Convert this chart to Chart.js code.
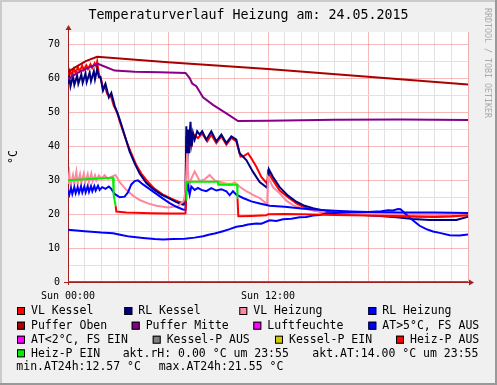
<!DOCTYPE html>
<html>
<head>
<meta charset="utf-8">
<script src="https://cdn.jsdelivr.net/npm/chart.js@4.4.1/dist/chart.umd.min.js"></script>
<style>
  html, body { margin: 0; padding: 0; background: #f0f0f0; }
  #wrap { width: 497px; height: 385px; }
</style>
</head>
<body>
<div id="wrap"><canvas id="chart" width="497" height="385"></canvas></div>
<script>
// Titel / Achsen
const chartTitle = 'Temperaturverlauf Heizung am: 24.05.2015'
const yAxisLabel = '°C'
const watermark = 'RRDTOOL / TOBI OETIKER'
const xTickLabels = { 0: 'Sun 00:00', 12: 'Sun 12:00' }

// Reihen (Stunden / Werte)
const vlKesselT = [0, 0.1, 0.2, 0.35, 0.45, 0.6, 0.7, 0.85, 0.95, 1.1, 1.2, 1.35, 1.45, 1.6, 1.7, 1.75, 1.85, 2.0, 2.1, 2.2, 2.35, 2.5, 2.6, 2.75, 2.95, 3.1, 3.3, 3.55, 3.8, 4.1, 4.4, 4.8, 5.2, 5.7, 6.2, 6.6, 6.95, 7.05, 7.1, 7.2, 7.3, 7.4, 7.55, 7.8, 8.05, 8.35, 8.6, 8.9, 9.2, 9.5, 9.8, 10.1, 10.35, 10.55, 10.8, 11.0, 11.3, 11.6, 11.95, 12.0, 12.3, 12.7, 13.2, 13.7, 14.2, 14.7, 15.7, 17, 18, 19, 20, 21, 22, 23, 24]
const vlKesselV = [61.0, 62.5, 61.2, 63.0, 61.8, 63.4, 62.2, 63.8, 62.6, 64.0, 62.9, 64.3, 63.2, 64.6, 63.6, 65.0, 61.5, 59.5, 57.0, 58.0, 55.5, 55.0, 54.5, 52.0, 50.0, 47.5, 44.5, 41.0, 38.0, 34.5, 32.0, 29.5, 27.5, 25.8, 24.6, 23.8, 23.2, 24.5, 43.0, 38.0, 44.0, 40.0, 43.5, 42.5, 43.8, 41.5, 43.5, 41.0, 43.0, 40.5, 42.5, 41.5, 37.0, 37.2, 38.0, 36.5, 34.0, 31.0, 29.0, 32.5, 30.0, 27.0, 25.0, 23.2, 22.0, 21.2, 20.3, 20.0, 19.8, 19.6, 19.5, 19.3, 19.3, 19.5, 19.9]

const rlKesselT = [0, 0.08, 0.15, 0.3, 0.38, 0.55, 0.62, 0.8, 0.88, 1.05, 1.12, 1.3, 1.38, 1.55, 1.62, 1.75, 1.85, 1.95, 2.1, 2.25, 2.45, 2.6, 2.8, 3.0, 3.2, 3.45, 3.7, 4.0, 4.3, 4.7, 5.1, 5.6, 6.1, 6.5, 6.9, 7.05, 7.1, 7.15, 7.22, 7.28, 7.35, 7.42, 7.5, 7.6, 7.75, 7.9, 8.05, 8.3, 8.6, 8.9, 9.2, 9.5, 9.8, 10.1, 10.3, 10.7, 11.1, 11.5, 11.95, 12.05, 12.3, 12.7, 13.2, 13.7, 14.2, 14.7, 15.7, 16.7, 17.7, 18.7, 19.7, 20.7, 21.7, 22.7, 23.3, 24]
const rlKesselV = [58.5, 60.5, 57.8, 60.8, 58.2, 61.0, 58.5, 61.3, 58.8, 61.6, 59.0, 61.8, 59.3, 62.2, 59.8, 62.8, 60.5, 60.5, 56.5, 58.5, 54.5, 55.8, 52.0, 49.5, 46.5, 42.5, 38.5, 35.0, 32.0, 29.2, 27.5, 25.8, 24.6, 23.6, 22.8, 23.0, 46.0, 34.0, 45.0, 38.0, 47.3, 40.0, 44.0, 42.0, 44.5, 43.5, 44.5, 42.0, 44.5, 41.5, 43.5, 41.0, 43.0, 42.0, 38.0, 36.0, 32.5, 29.5, 27.8, 33.3, 31.0, 28.0, 25.5, 23.7, 22.5, 21.8, 20.7, 20.2, 19.8, 19.5, 19.1, 18.6, 18.3, 18.3, 18.3, 19.3]

const vlHeizungT = [0, 0.08, 0.16, 0.3, 0.38, 0.5, 0.58, 0.72, 0.8, 0.95, 1.03, 1.18, 1.26, 1.4, 1.48, 1.62, 1.7, 1.85, 2.0, 2.2, 2.4, 2.6, 2.85, 3.1, 3.5, 3.9, 4.3, 4.8, 5.3, 6.0, 6.6, 6.95, 7.05, 7.15, 7.25, 7.4, 7.6, 7.9, 8.2, 8.5, 8.8, 9.1, 9.4, 9.7, 10.0, 10.3, 10.7, 11.1, 11.5, 11.95, 12.0, 12.3, 12.7, 13.1, 13.5, 14.0, 14.5, 15.5, 16.5, 18, 20, 22, 24]
const vlHeizungV = [29.0, 32.0, 28.5, 31.5, 28.8, 32.5, 29.0, 31.8, 29.2, 32.0, 29.5, 31.8, 29.5, 32.0, 29.8, 31.5, 30.0, 31.5, 30.5, 31.5, 30.5, 31.0, 31.6, 29.5, 27.2, 25.5, 24.2, 23.2, 22.5, 22.0, 22.4, 24.0, 27.0, 38.0, 28.0, 30.5, 32.6, 29.8, 30.3, 31.6, 30.0, 29.6, 29.2, 28.6, 29.4, 28.1, 26.8, 25.7, 24.8, 23.0, 31.0, 28.0, 26.2, 24.0, 22.7, 21.8, 21.3, 20.5, 20.2, 20.0, 19.9, 19.9, 20.0]

const rlHeizungT = [0, 0.08, 0.18, 0.26, 0.38, 0.46, 0.58, 0.66, 0.78, 0.86, 0.98, 1.06, 1.18, 1.26, 1.38, 1.46, 1.58, 1.66, 1.8, 1.9, 2.05, 2.25, 2.45, 2.6, 2.8, 3.1, 3.4, 3.6, 3.8, 4.0, 4.2, 4.5, 4.9, 5.3, 5.7, 6.1, 6.5, 6.9, 7.05, 7.1, 7.2, 7.3, 7.4, 7.6, 7.8, 8.0, 8.3, 8.6, 8.9, 9.2, 9.5, 9.7, 9.9, 10.1, 10.5, 11.0, 11.5, 12.1, 13.0, 14.0, 15.0, 16.0, 17.0, 18.0, 19.0, 20, 22, 24]
const rlHeizungV = [27.0, 25.8, 27.8, 26.0, 28.0, 26.2, 28.0, 26.3, 28.2, 26.4, 28.2, 26.5, 28.3, 26.6, 28.3, 26.8, 28.3, 27.0, 28.4, 27.2, 28.0, 27.5, 28.2, 27.5, 26.0, 25.0, 25.2, 26.5, 28.8, 29.8, 30.0, 28.8, 27.4, 26.0, 24.6, 23.3, 22.2, 21.4, 21.3, 26.5, 28.5, 25.8, 28.2, 27.2, 27.8, 27.2, 26.8, 27.7, 27.0, 27.4, 26.8, 25.6, 26.8, 25.8, 24.8, 23.8, 23.2, 22.5, 22.2, 21.7, 21.3, 21.0, 20.8, 20.7, 20.6, 20.5, 20.5, 20.4]

const pufferObenT = [0, 0.5, 1.1, 1.75, 6, 12, 18, 24]
const pufferObenV = [62.0, 63.6, 65.3, 66.5, 64.9, 62.9, 60.6, 58.3]

const pufferMitteT = [0, 0.6, 1.2, 1.8, 2.3, 2.8, 4, 5.5, 7.05, 7.3, 7.45, 7.7, 8.1, 8.7, 9.5, 10.2, 12, 16, 20, 24]
const pufferMitteV = [59.9, 61.8, 63.2, 64.4, 63.4, 62.4, 62.1, 61.9, 61.7, 60.2, 58.6, 57.8, 54.5, 52.3, 49.8, 47.5, 47.6, 47.9, 48.0, 47.8]

const luftfeuchteT = [0, 24]
const luftfeuchteV = [0, 0]

const atT = [0, 1, 2, 2.7, 3.2, 3.7, 4.5, 5.2, 5.7, 6.3, 7.0, 7.6, 8.1, 8.5, 8.8, 9.3, 9.7, 10.1, 10.5, 10.8, 11.3, 11.6, 12.1, 12.5, 12.9, 13.4, 13.9, 14.3, 14.7, 15.1, 15.5, 16, 17, 18, 18.8, 19.2, 19.5, 19.8, 19.95, 20.1, 20.4, 20.8, 21.1, 21.5, 21.9, 22.3, 22.9, 23.5, 24]
const atV = [15.4, 15.0, 14.6, 14.4, 13.9, 13.4, 13.0, 12.7, 12.57, 12.7, 12.8, 13.1, 13.5, 14.0, 14.3, 15.0, 15.6, 16.3, 16.6, 17.0, 17.3, 17.2, 18.2, 18.0, 18.5, 18.7, 19.1, 19.2, 19.6, 19.8, 20.3, 20.4, 20.6, 20.7, 20.9, 21.2, 21.1, 21.55, 21.5, 20.8, 19.4, 17.8, 16.6, 15.6, 14.9, 14.5, 13.8, 13.7, 14.0]

const atFrostT = [0, 24]
const atFrostV = [0, 0]

const kesselPAusT = []
const kesselPAusV = []

const kesselPEinT = [8.95, 10.15]
const kesselPEinV = [29.0, 29.0]

const heizPAusT = [2.86, 2.9, 3.5, 5, 6, 7.0, 7.05, 7.08, 7.09, 10.17, 10.22, 11.0, 11.9, 12.0, 13, 14, 16, 18, 20, 22, 23, 24]
const heizPAusV = [22.4, 20.8, 20.5, 20.3, 20.2, 20.2, 20.3, 24.3, null, 24.7, 19.4, 19.5, 19.7, 20.0, 20.1, 20.0, 19.8, 19.6, 19.4, 19.2, 19.3, 19.7]

const heizPEinT = [0, 2.62, 2.7, 2.74, 2.86, 2.9, 7.08, 7.1, 9.0, 9.02, 10.15, 10.17]
const heizPEinV = [30.0, 30.8, 30.8, 25.6, 22.4, null, 24.3, 29.6, 29.6, 28.7, 28.7, 24.7]

const seriesNames = ['VL Kessel', 'RL Kessel', 'VL Heizung', 'RL Heizung', 'Puffer Oben', 'Puffer Mitte', 'Luftfeuchte', 'AT>5°C, FS AUS', 'AT<2°C, FS EIN', 'Kessel-P AUS', 'Kessel-P EIN', 'Heiz-P AUS', 'Heiz-P EIN']
const seriesColors = ['#ff0000', '#000080', '#ff88a0', '#0000ff', '#aa0000', '#880088', '#ff00ff', '#0000ff', '#ff00ff', '#808080', '#cccc00', '#ff0000', '#00ee00']
const seriesTimes = [vlKesselT, rlKesselT, vlHeizungT, rlHeizungT, pufferObenT, pufferMitteT, luftfeuchteT, atT, atFrostT, kesselPAusT, kesselPEinT, heizPAusT, heizPEinT]
const seriesValues = [vlKesselV, rlKesselV, vlHeizungV, rlHeizungV, pufferObenV, pufferMitteV, luftfeuchteV, atV, atFrostV, kesselPAusV, kesselPEinV, heizPAusV, heizPEinV]

const infoTexts = ['akt.rH: 0.00 °C um 23:55', 'akt.AT:14.00 °C um 23:55', 'min.AT24h:12.57 °C', 'max.AT24h:21.55 °C']

const MONO = "'DejaVu Sans Mono', monospace"
const AXIS_COLOR = '#a02020'

// Legende im RRDtool-Stil (Positionen)
const legendSlots = [
    [17, 311], [124.3, 311], [239.3, 311], [368.3, 311],
    [17, 325.7], [131.7, 325.7], [253.3, 325.7], [368.3, 325.7],
    [17, 339.7], [152.7, 339.7], [275, 339.7], [396, 339.7],
    [17, 353.3]
]
const infoSlots = [[122.7, 353.3], [312.3, 353.3], [16.3, 367], [158.7, 367]]

const rrdPlugin = {
    id: 'rrd',
    beforeDraw(chart) {
        const { ctx, chartArea: a } = chart
        ctx.save()
        ctx.fillStyle = '#f0f0f0'
        ctx.fillRect(0, 0, chart.width, chart.height)
        // Rahmen
        ctx.fillStyle = '#cbcbcb'
        ctx.fillRect(0, 0, chart.width, 2)
        ctx.fillRect(0, 0, 2, chart.height)
        ctx.fillStyle = '#999999'
        ctx.fillRect(0, chart.height - 2, chart.width, 2)
        ctx.fillRect(chart.width - 2, 0, 2, chart.height)
        ctx.fillStyle = '#ffffff'
        ctx.fillRect(a.left, a.top, a.right - a.left, a.bottom - a.top)
        ctx.restore()
    },
    beforeDatasetsDraw(chart) {
        const { ctx, chartArea: a } = chart
        ctx.save()
        ctx.strokeStyle = AXIS_COLOR
        ctx.fillStyle = AXIS_COLOR
        ctx.lineWidth = 1
        ctx.beginPath()
        ctx.moveTo(a.left - 4, a.bottom + 0.5)
        ctx.lineTo(a.right + 2, a.bottom + 0.5)
        ctx.moveTo(a.left + 0.5, a.bottom + 3)
        ctx.lineTo(a.left + 0.5, a.top - 3)
        ctx.stroke()
        // Pfeile
        ctx.beginPath()
        ctx.moveTo(a.right + 6, a.bottom + 0.5)
        ctx.lineTo(a.right + 1, a.bottom - 2.5)
        ctx.lineTo(a.right + 1, a.bottom + 3.5)
        ctx.closePath()
        ctx.fill()
        ctx.beginPath()
        ctx.moveTo(a.left + 0.5, a.top - 7)
        ctx.lineTo(a.left - 2.5, a.top - 2)
        ctx.lineTo(a.left + 3.5, a.top - 2)
        ctx.closePath()
        ctx.fill()
        ctx.restore()
    },
    afterDraw(chart) {
        const { ctx, chartArea: a } = chart
        ctx.save()
        // Titel
        ctx.fillStyle = '#000'
        ctx.font = '13.3px ' + MONO
        ctx.textAlign = 'center'
        ctx.textBaseline = 'middle'
        ctx.fillText(chartTitle, chart.width / 2, 16)

        // Y-Achsentitel
        ctx.save()
        ctx.font = '11.5px ' + MONO
        ctx.translate(14, (a.top + a.bottom) / 2)
        ctx.rotate(-Math.PI / 2)
        ctx.fillText(yAxisLabel, 0, 0)
        ctx.restore()

        // Wasserzeichen
        ctx.save()
        ctx.fillStyle = '#aaaaaa'
        ctx.font = '8.3px ' + MONO
        ctx.translate(487, 8)
        ctx.rotate(Math.PI / 2)
        ctx.textAlign = 'left'
        ctx.fillText(watermark, 0, 0)
        ctx.restore()

        // Legende
        ctx.font = '11.5px ' + MONO
        ctx.textAlign = 'left'
        ctx.textBaseline = 'middle'
        seriesNames.forEach((name, i) => {
            const [x, y] = legendSlots[i]
            ctx.fillStyle = seriesColors[i]
            ctx.fillRect(x, y - 4, 8, 8)
            ctx.strokeStyle = '#000'
            ctx.lineWidth = 1
            ctx.strokeRect(x + 0.5, y - 3.5, 7, 7)
            ctx.fillStyle = '#000'
            ctx.fillText(name, x + 14, y + 0.5)
        })
        infoTexts.forEach((t, i) => {
            const [x, y] = infoSlots[i]
            ctx.fillStyle = '#000'
            ctx.fillText(t, x, y + 0.5)
        })
        ctx.restore()
    }
}

function buildDatasets() {
    return seriesNames.map((name, i) => ({
        label: name,
        data: seriesTimes[i].map((t, j) => ({ x: t, y: seriesValues[i][j] })),
        borderColor: seriesColors[i],
        backgroundColor: seriesColors[i],
        borderWidth: 2,
        pointRadius: 0,
        tension: 0,
        spanGaps: false,
        fill: false,
        order: -i
    }))
}

const MAJOR_GRID = 'rgba(235, 90, 90, 0.42)'
const MINOR_GRID = '#e2e2e2'

new Chart(document.getElementById('chart'), {
    type: 'line',
    data: { datasets: buildDatasets() },
    options: {
        responsive: false,
        animation: false,
        devicePixelRatio: 1,
        layout: { padding: { left: 0, right: 29, top: 32, bottom: 0 } },
        plugins: { legend: { display: false }, tooltip: { enabled: false }, title: { display: false } },
        scales: {
            x: {
                type: 'linear',
                min: 0,
                max: 24,
                afterFit: s => { s.height = 103 },
                border: { display: false },
                grid: {
                    drawTicks: false,
                    color: c => (c.tick && c.tick.value % 6 === 0) ? MAJOR_GRID : MINOR_GRID
                },
                ticks: {
                    stepSize: 1,
                    autoSkip: false,
                    maxRotation: 0,
                    padding: 8,
                    color: '#000',
                    font: { family: MONO, size: 10 },
                    callback: v => xTickLabels[v] || ''
                }
            },
            y: {
                min: 0,
                max: 73.8,
                afterFit: s => { s.width = 68 },
                afterBuildTicks: s => { s.ticks = s.ticks.filter(t => t.value % 5 === 0) },
                border: { display: false },
                grid: {
                    drawTicks: false,
                    color: c => (c.tick && c.tick.value % 10 === 0) ? MAJOR_GRID : MINOR_GRID
                },
                ticks: {
                    stepSize: 5,
                    padding: 8,
                    color: '#000',
                    font: { family: MONO, size: 10 },
                    callback: v => (v % 10 === 0 ? String(v) : '')
                }
            }
        }
    },
    plugins: [rrdPlugin]
})
</script>
</body>
</html>
